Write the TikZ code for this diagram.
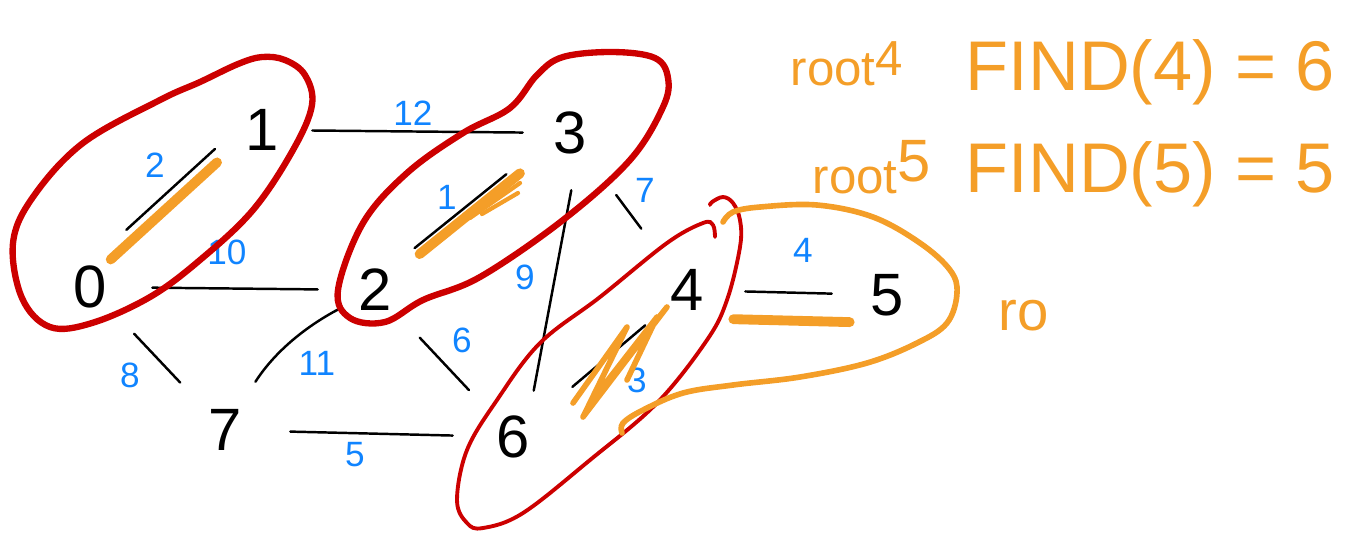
\documentclass[tikz,border=0pt]{standalone}
\usepackage{fontspec}
\setmainfont{Liberation Sans}
\definecolor{setred}{RGB}{204,0,0}
\definecolor{pickorange}{RGB}{244,158,40}
\definecolor{wtblue}{RGB}{16,132,255}

\begin{document}
\begin{tikzpicture}[x=0.01cm, y=-0.01cm,
    vertex/.style={inner sep=0pt, font=\fontsize{17}{20}\selectfont},
    wt/.style={inner sep=0pt, text=wtblue, font=\fontsize{10}{12}\selectfont},
    edge/.style={line width=0.7pt, line cap=round},
    pick/.style={draw=pickorange, line width=2.8pt, line cap=round},
    setloop/.style={draw=setred, line width=1.8pt, line cap=round},
    note/.style={inner sep=0pt, text=pickorange, anchor=base west},
    cut/.style 2 args={shorten <=#1, shorten >=#2}
]
\useasboundingbox (0,0) rectangle (1345,532);
% vertices
\node[vertex] (n0) at (90,287) {0};
\node[vertex] (n1) at (262,130) {1};
\node[vertex] (n2) at (375,290) {2};
\node[vertex] (n3) at (570,133) {3};
\node[vertex] (n4) at (687,290) {4};
\node[vertex] (n5) at (887,295) {5};
\node[vertex] (n6) at (513,437) {6};
\node[vertex] (n7) at (225,430) {7};
% weights
\node[wt] (w01) at (155,165) {2};
\node[wt] (w13) at (413,113) {12};
\node[wt] (w02) at (227,252) {10};
\node[wt] (w23) at (447,197) {1};
\node[wt] (w36) at (525,277) {9};
\node[wt] (w34) at (645,190) {7};
\node[wt] (w45) at (803,250) {4};
\node[wt] (w07) at (130,375) {8};
\node[wt] (w72) at (317,363) {11};
\node[wt] (w26) at (462,340) {6};
\node[wt] (w76) at (355,455) {5};
\node[wt] (w46) at (637,380) {3};
% edges
\draw[edge, cut={0.42cm}{0.24cm}, transform canvas={xshift=-0.12cm, yshift=0.13cm}] (n0) -- (n1);
\draw[edge, cut={0.33cm}{0.30cm}] (n1) -- (n3);
\draw[edge, cut={0.45cm}{0.40cm}] (n0) -- (n2);
\draw[edge, cut={0.35cm}{0.53cm}, transform canvas={xshift=-0.05cm, yshift=0.06cm}] (n2) -- (n3);
\draw[edge, cut={0.36cm}{0.25cm}, transform canvas={xshift=0.12cm}] (n3) -- (n6);
\draw[edge, cut={0.50cm}{0.50cm}] (n3) -- (n4);
\draw[edge, cut={0.41cm}{0.38cm}] (n4) -- (n5);
\draw[edge, cut={0.39cm}{0.40cm}] (n0) -- (n7);
\draw[edge, cut={0.32cm}{0.20cm}] (n7) to[bend left=15] (n2);
\draw[edge, cut={0.40cm}{0.39cm}] (n2) -- (n6);
\draw[edge, cut={0.48cm}{0.43cm}] (n7) -- (n6);
\draw[edge, cut={0.32cm}{0.55cm}] (n4) -- (n6);
% picked edges
\draw[pick, cut={0.10cm}{0.32cm}, transform canvas={xshift=-0.04cm, yshift=0.05cm}] (n0) -- (n1);
\draw[pick, cut={0.35cm}{0.42cm}] (n2) -- (n3);
\draw[pick, line width=1.2pt] (470,218) -- (520,183);
\draw[pick, line width=1.2pt] (482,214) -- (518,193);
\draw[pick, cut={0.29cm}{0.20cm}, transform canvas={yshift=-0.28cm}] (n4) -- (n5);
\draw[pick, line width=1.6pt, line join=round]
    (573,403) -- (627,327) -- (583,417) -- (667,307) -- (590,403) -- (657,317) -- (627,380);
% sets
\draw[setloop] plot[smooth cycle, tension=0.6] coordinates {
    (13,243) (22,298) (50,327) (92,323) (150,297) (200,260) (253,210) (293,150)
    (312,105) (305,75) (285,60) (262,57) (238,64) (200,82) (160,100) (83,143) (33,197)};
\draw[setloop] plot[smooth cycle, tension=0.6] coordinates {
    (423,300) (385,322) (350,318) (338,290) (363,223) (407,173) (463,133) (510,108)
    (537,75) (563,57) (613,52) (655,58) (668,78) (663,107) (630,160) (563,220) (480,277)};
\draw[setloop, line width=1.1pt] plot[smooth, tension=0.6] coordinates {
    (715,237) (713,225) (703,223) (667,243) (600,297) (540,343) (497,400) (467,450)
    (457,500) (467,523) (483,528) (523,513) (590,460) (657,403) (707,340) (727,300)
    (740,247) (740,220) (733,203) (723,197) (712,202) (710,205)};
\draw[pick, line width=1.6pt] plot[smooth, tension=0.6] coordinates {
    (723,222) (733,212) (760,207) (817,205) (873,217) (920,243) (950,270) (957,293)
    (947,323) (917,343) (867,363) (800,377) (733,385) (683,393) (643,410) (623,423) (622,433)};
% notes
\node[note, font=\fontsize{20}{24}\selectfont] (find4) at (965,90) {FIND(4) = 6};
\node[note, font=\fontsize{20}{24}\selectfont] (find5) at (965,192) {FIND(5) = 5};
\node[note, font=\fontsize{14}{16}\selectfont] (root4) at (790,85) {root\raisebox{0.1cm}{4}};
\node[note, font=\fontsize{14}{16}\selectfont] (root5) at (812,193) {root\raisebox{0.12cm}{\fontsize{17}{20}\selectfont 5}};
\node[note, font=\fontsize{16}{19}\selectfont] (ro) at (998,330) {ro};
\end{tikzpicture}
\end{document}
